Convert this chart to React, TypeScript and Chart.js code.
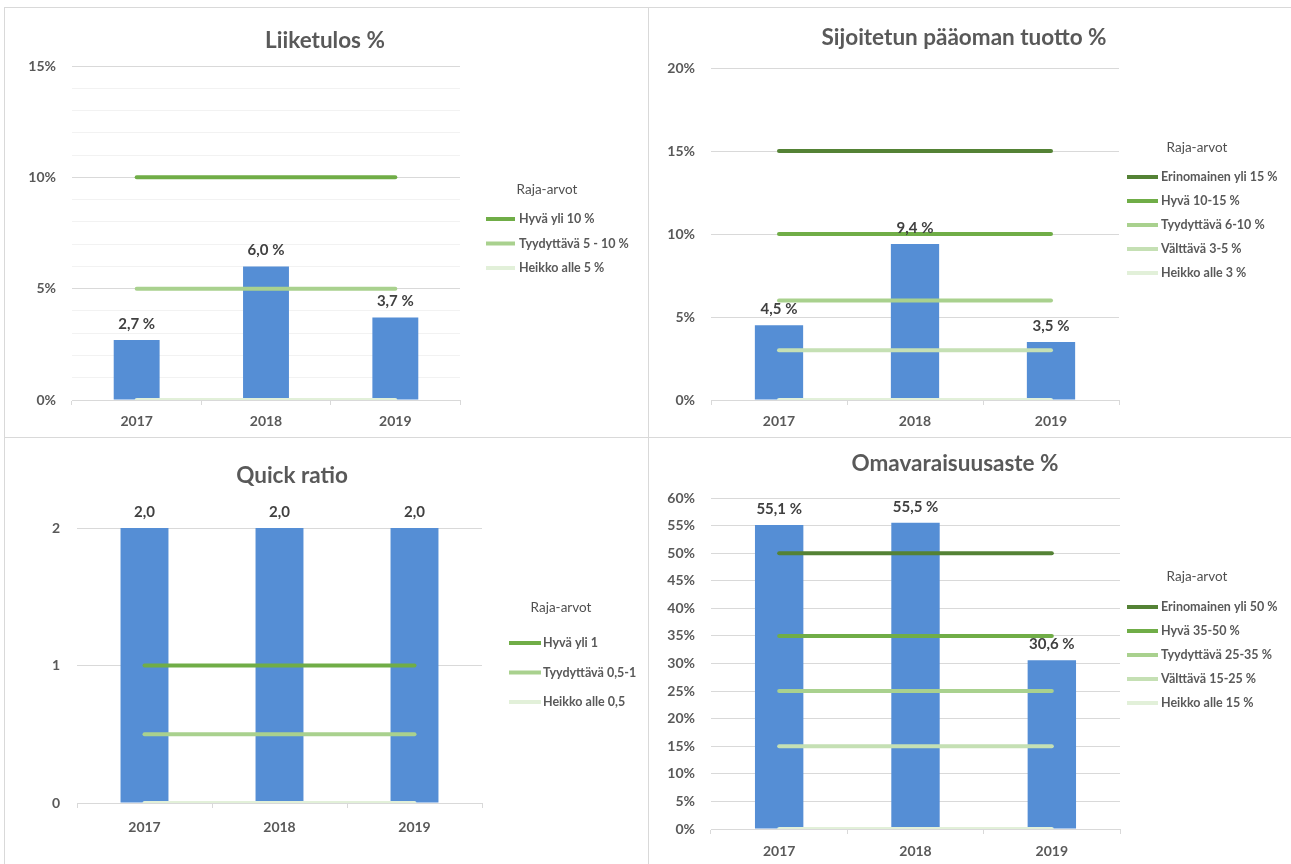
import React, { useEffect, useRef } from 'react';
import { Chart, registerables } from 'chart.js';
Chart.register(...registerables);

// ---------- data ----------
const years = ['2017', '2018', '2019'];

const liiketulosValues = [2.7, 6.0, 3.7];
const liiketulosLimits = [10, 5, 0];
const liiketulosLevels = ['Hyvä', 'Tyydyttävä', 'Heikko'];
const liiketulosLegend = ['Hyvä yli 10 %', 'Tyydyttävä 5 - 10 %', 'Heikko alle 5 %'];

const sijoitettuValues = [4.5, 9.4, 3.5];
const sijoitettuLimits = [15, 10, 6, 3, 0];
const sijoitettuLevels = ['Erinomainen', 'Hyvä', 'Tyydyttävä', 'Välttävä', 'Heikko'];
const sijoitettuLegend = ['Erinomainen yli 15 %', 'Hyvä 10-15 %', 'Tyydyttävä 6-10 %', 'Välttävä 3-5 %', 'Heikko alle 3 %'];

const quickValues = [2.0, 2.0, 2.0];
const quickLimits = [1, 0.5, 0];
const quickLevels = ['Hyvä', 'Tyydyttävä', 'Heikko'];
const quickLegend = ['Hyvä yli 1', 'Tyydyttävä 0,5-1', 'Heikko alle 0,5'];

const omavaraValues = [55.1, 55.5, 30.6];
const omavaraLimits = [50, 35, 25, 15, 0];
const omavaraLevels = ['Erinomainen', 'Hyvä', 'Tyydyttävä', 'Välttävä', 'Heikko'];
const omavaraLegend = ['Erinomainen yli 50 %', 'Hyvä 35-50 %', 'Tyydyttävä 25-35 %', 'Välttävä 15-25 %', 'Heikko alle 15 %'];

const levelColors: Record<string, string> = {
  'Erinomainen': '#548235',
  'Hyvä': '#70ad47',
  'Tyydyttävä': '#a9d18e',
  'Välttävä': '#c5e0b4',
  'Heikko': '#e2f0d9',
};

const BAR = '#558ed5';
const TEXT = '#595959';
const FONT = 'Lato, "Open Sans", sans-serif';

type Panel = {
  key: string;
  left: number; top: number; width: number; height: number;
  plotLeft: number; plotRight: number; plotTop: number; plotBottom: number;
  yPad: number; xPad: number; yMax: number; step: number; major: number; pct: boolean;
  title: string; titleX: number; titleY: number;
  legendTitleX: number; legendTitleY: number; swatchX: number; swatchW: number; textX: number;
  itemY: number; itemGap: number;
  values: number[]; limits: number[]; levels: string[]; legend: string[];
};

const panels: Panel[] = [
  {
    key: 'p1', left: 5, top: 8, width: 643, height: 429,
    plotLeft: 67, plotRight: 455, plotTop: 58, plotBottom: 392,
    yPad: 16, xPad: 8, yMax: 15, step: 1, major: 5, pct: true,
    title: 'Liiketulos %', titleX: 320, titleY: 33,
    legendTitleX: 542, legendTitleY: 182, swatchX: 481, swatchW: 29, textX: 514,
    itemY: 211, itemGap: 24.5,
    values: liiketulosValues, limits: liiketulosLimits, levels: liiketulosLevels, legend: liiketulosLegend,
  },
  {
    key: 'p2', left: 649, top: 8, width: 642, height: 429,
    plotLeft: 62, plotRight: 470, plotTop: 60, plotBottom: 392,
    yPad: 16, xPad: 8, yMax: 20, step: 5, major: 5, pct: true,
    title: 'Sijoitetun pääoman tuotto %', titleX: 315, titleY: 30,
    legendTitleX: 548, legendTitleY: 140, swatchX: 478, swatchW: 31, textX: 512,
    itemY: 169, itemGap: 24,
    values: sijoitettuValues, limits: sijoitettuLimits, levels: sijoitettuLevels, legend: sijoitettuLegend,
  },
  {
    key: 'p3', left: 5, top: 438, width: 643, height: 426,
    plotLeft: 72, plotRight: 477, plotTop: 90, plotBottom: 365,
    yPad: 17, xPad: 11, yMax: 2, step: 1, major: 1, pct: false,
    title: 'Quick ratio', titleX: 287, titleY: 38,
    legendTitleX: 556, legendTitleY: 170, swatchX: 504, swatchW: 32, textX: 538,
    itemY: 205, itemGap: 29.5,
    values: quickValues, limits: quickLimits, levels: quickLevels, legend: quickLegend,
  },
  {
    key: 'p4', left: 649, top: 438, width: 642, height: 426,
    plotLeft: 62, plotRight: 471, plotTop: 60, plotBottom: 391,
    yPad: 16, xPad: 9, yMax: 60, step: 5, major: 5, pct: true,
    title: 'Omavaraisuusaste %', titleX: 306, titleY: 26,
    legendTitleX: 548, legendTitleY: 139, swatchX: 478, swatchW: 31, textX: 512,
    itemY: 169, itemGap: 24,
    values: omavaraValues, limits: omavaraLimits, levels: omavaraLevels, legend: omavaraLegend,
  },
];

function fmtValue(v: number, pct: boolean) {
  const s = v.toFixed(1).replace('.', ',');
  return pct ? s + ' %' : s;
}

function makeDecor(p: Panel) {
  return {
    id: 'decor_' + p.key,
    afterDatasetsDraw(chart: any) {
      const ctx = chart.ctx as CanvasRenderingContext2D;
      ctx.save();
      // value labels
      const meta = chart.getDatasetMeta(0);
      ctx.font = `bold 15px ${FONT}`;
      ctx.fillStyle = '#404040';
      ctx.textAlign = 'center';
      ctx.textBaseline = 'middle';
      meta.data.forEach((el: any, i: number) => {
        ctx.fillText(fmtValue(p.values[i], p.pct), el.x, el.y - 16);
      });
      // title
      ctx.font = `bold 22.5px ${FONT}`;
      ctx.fillStyle = TEXT;
      ctx.fillText(p.title, p.titleX, p.titleY);
      // legend
      ctx.font = `13.5px ${FONT}`;
      ctx.fillStyle = '#505050';
      ctx.fillText('Raja-arvot', p.legendTitleX, p.legendTitleY);
      ctx.textAlign = 'left';
      ctx.font = `bold 12.5px ${FONT}`;
      p.legend.forEach((txt, i) => {
        const y = p.itemY + i * p.itemGap;
        ctx.fillStyle = levelColors[p.levels[i]];
        ctx.fillRect(p.swatchX, y - 2, p.swatchW, 4);
        ctx.fillStyle = TEXT;
        ctx.fillText(txt, p.textX, y);
      });
      ctx.restore();
    },
  };
}

function PanelChart({ p }: { p: Panel }) {
  const ref = useRef<HTMLCanvasElement | null>(null);
  useEffect(() => {
    if (!ref.current) return;
    const lineSets = p.limits.map((lim, i) => ({
      type: 'line' as const,
      label: p.legend[i],
      data: years.map(() => lim),
      borderColor: levelColors[p.levels[i]],
      backgroundColor: levelColors[p.levels[i]],
      borderWidth: 4,
      borderCapStyle: 'round' as const,
      pointRadius: 0,
      pointHoverRadius: 0,
      order: 0,
    }));
    const chart = new Chart(ref.current, {
      type: 'bar',
      data: {
        labels: years,
        datasets: [
          {
            type: 'bar',
            label: p.title,
            data: p.values,
            backgroundColor: BAR,
            barPercentage: 0.355,
            categoryPercentage: 1,
            order: 1,
          } as any,
          ...lineSets,
        ],
      },
      options: {
        responsive: false,
        animation: false,
        devicePixelRatio: 1,
        layout: { padding: { left: 0, top: p.plotTop, right: p.width - p.plotRight, bottom: 0 } },
        plugins: { legend: { display: false }, tooltip: { enabled: false }, title: { display: false } },
        scales: {
          x: {
            grid: { drawOnChartArea: false, drawTicks: true, tickLength: 5, color: '#d9d9d9', offset: true },
            border: { display: true, color: '#d9d9d9' },
            ticks: { padding: p.xPad, color: TEXT, font: { family: FONT, size: 14, weight: 'bold' } },
            afterFit: (s: any) => { s.height = p.height - p.plotBottom; },
          },
          y: {
            min: 0,
            max: p.yMax,
            border: { display: false },
            grid: {
              drawTicks: false,
              color: (c: any) => {
                const v = c.tick ? c.tick.value : 0;
                return Math.abs(v / p.major - Math.round(v / p.major)) < 1e-6 ? '#d9d9d9' : '#f2f2f2';
              },
            },
            ticks: {
              stepSize: p.step,
              autoSkip: false,
              padding: p.yPad,
              color: TEXT,
              font: { family: FONT, size: 14, weight: 'bold' },
              callback: (v: any) => {
                const n = Number(v);
                if (Math.abs(n / p.major - Math.round(n / p.major)) > 1e-6) return '';
                return p.pct ? `${n}%` : `${n}`;
              },
            },
            afterFit: (s: any) => { s.width = p.plotLeft; },
          },
        },
      } as any,
      plugins: [makeDecor(p)],
    });
    return () => chart.destroy();
  }, [p]);
  return (
    <canvas
      ref={ref}
      width={p.width}
      height={p.height}
      style={{ position: 'absolute', left: p.left, top: p.top, width: p.width, height: p.height }}
    />
  );
}

export default function App() {
  const line = '#d9d9d9';
  return (
    <div style={{ position: 'absolute', left: 0, top: 0, width: 1291, height: 864, overflow: 'hidden', background: '#fff' }}>
      <div style={{ position: 'absolute', left: 4, top: 7, width: 1, height: 857, background: line }} />
      <div style={{ position: 'absolute', left: 4, top: 7, width: 1287, height: 1, background: line }} />
      <div style={{ position: 'absolute', left: 648, top: 7, width: 1, height: 857, background: line }} />
      <div style={{ position: 'absolute', left: 4, top: 437, width: 1287, height: 1, background: line }} />
      {panels.map((p) => (
        <PanelChart key={p.key} p={p} />
      ))}
    </div>
  );
}
